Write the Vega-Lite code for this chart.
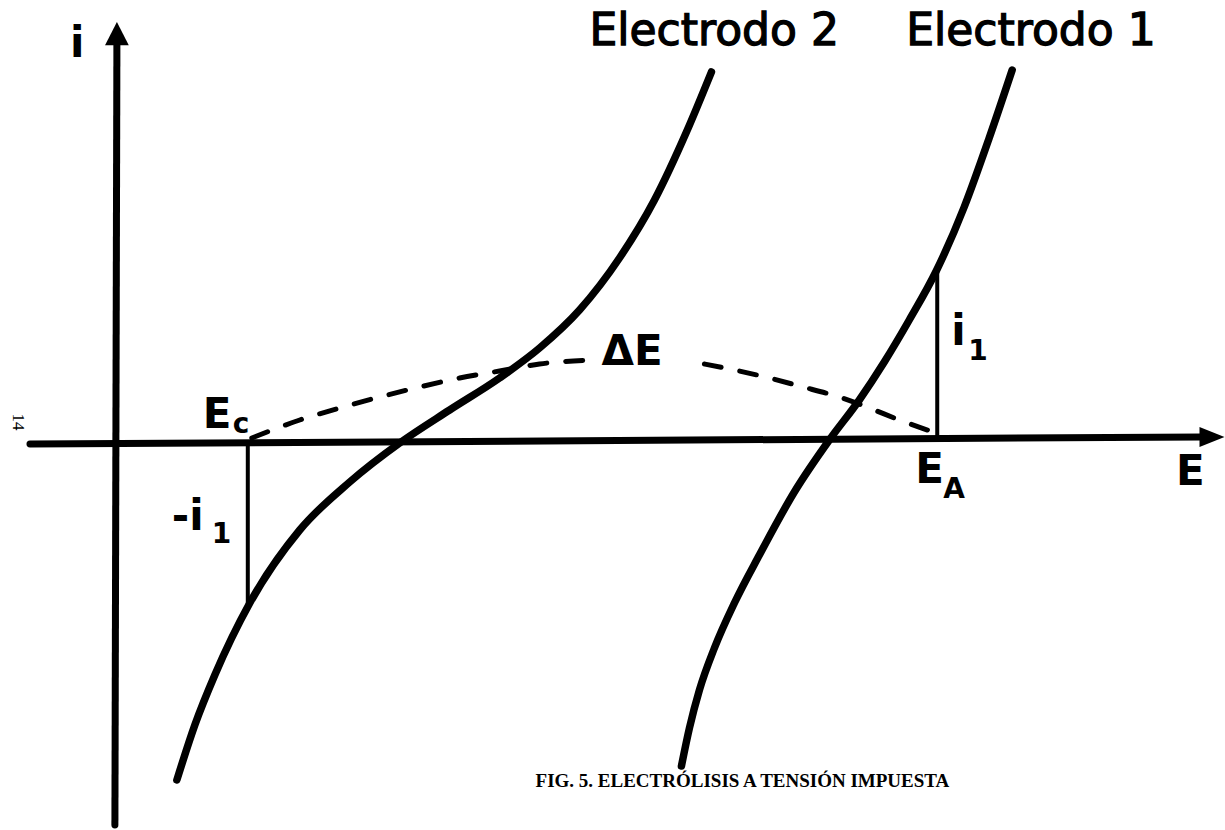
{
  "$schema": "https://vega.github.io/schema/vega-lite/v6.json",
  "width": 1225,
  "height": 830,
  "autosize": {"type": "fit", "contains": "padding"},
  "padding": 0,
  "background": "white",
  "config": {"view": {"stroke": null}},
  "datasets": {
    "axes": [
      {"E": -0.87, "i": -0.01, "E2": 10.86, "i2": 0.06},
      {"E": 0.0, "i": 3.99, "E2": -0.02, "i2": -3.82}
    ],
    "arrowUp": [{"E": 0.0, "i": 4.085}],
    "arrowRight": [{"E": 10.96, "i": 0.06}],
    "curves": [
      {"curve": "Electrodo 2", "E": 0.60, "i": -3.37},
      {"curve": "Electrodo 2", "E": 0.78, "i": -2.82},
      {"curve": "Electrodo 2", "E": 0.98, "i": -2.32},
      {"curve": "Electrodo 2", "E": 1.33, "i": -1.60},
      {"curve": "Electrodo 2", "E": 1.83, "i": -0.87},
      {"curve": "Electrodo 2", "E": 2.33, "i": -0.39},
      {"curve": "Electrodo 2", "E": 2.83, "i": 0.00},
      {"curve": "Electrodo 2", "E": 3.33, "i": 0.33},
      {"curve": "Electrodo 2", "E": 3.83, "i": 0.65},
      {"curve": "Electrodo 2", "E": 4.23, "i": 0.95},
      {"curve": "Electrodo 2", "E": 4.63, "i": 1.33},
      {"curve": "Electrodo 2", "E": 5.03, "i": 1.85},
      {"curve": "Electrodo 2", "E": 5.38, "i": 2.43},
      {"curve": "Electrodo 2", "E": 5.70, "i": 3.11},
      {"curve": "Electrodo 2", "E": 5.95, "i": 3.71},
      {"curve": "Electrodo 1", "E": 5.65, "i": -3.23},
      {"curve": "Electrodo 1", "E": 5.73, "i": -2.85},
      {"curve": "Electrodo 1", "E": 5.83, "i": -2.47},
      {"curve": "Electrodo 1", "E": 5.98, "i": -2.05},
      {"curve": "Electrodo 1", "E": 6.18, "i": -1.60},
      {"curve": "Electrodo 1", "E": 6.43, "i": -1.12},
      {"curve": "Electrodo 1", "E": 6.78, "i": -0.49},
      {"curve": "Electrodo 1", "E": 7.13, "i": 0.03},
      {"curve": "Electrodo 1", "E": 7.43, "i": 0.43},
      {"curve": "Electrodo 1", "E": 7.68, "i": 0.81},
      {"curve": "Electrodo 1", "E": 7.93, "i": 1.23},
      {"curve": "Electrodo 1", "E": 8.20, "i": 1.72},
      {"curve": "Electrodo 1", "E": 8.48, "i": 2.36},
      {"curve": "Electrodo 1", "E": 8.73, "i": 3.05},
      {"curve": "Electrodo 1", "E": 8.96, "i": 3.73}
    ],
    "drops": [
      {"E": 1.31, "i": -0.01, "E2": 1.31, "i2": -1.64},
      {"E": 8.21, "i": 0.06, "E2": 8.21, "i2": 1.72}
    ],
    "deltaE": [
      {"part": "left", "E": 1.35, "i": 0.05},
      {"part": "left", "E": 1.83, "i": 0.23},
      {"part": "left", "E": 2.23, "i": 0.35},
      {"part": "left", "E": 2.63, "i": 0.46},
      {"part": "left", "E": 3.03, "i": 0.56},
      {"part": "left", "E": 3.43, "i": 0.65},
      {"part": "left", "E": 3.83, "i": 0.72},
      {"part": "left", "E": 4.23, "i": 0.79},
      {"part": "left", "E": 4.75, "i": 0.83},
      {"part": "right", "E": 5.88, "i": 0.79},
      {"part": "right", "E": 6.23, "i": 0.72},
      {"part": "right", "E": 6.53, "i": 0.65},
      {"part": "right", "E": 6.83, "i": 0.57},
      {"part": "right", "E": 7.26, "i": 0.45},
      {"part": "right", "E": 7.53, "i": 0.35},
      {"part": "right", "E": 7.83, "i": 0.23},
      {"part": "right", "E": 8.20, "i": 0.10}
    ],
    "headings": [
      {"label": "Electrodo 2", "E": 4.73, "i": 3.98},
      {"label": "Electrodo 1", "E": 7.90, "i": 3.98}
    ],
    "symbols": [
      {"label": "i", "E": -0.47, "i": 3.86},
      {"label": "E", "E": 0.86, "i": 0.15},
      {"label": "-i", "E": 0.55, "i": -0.87},
      {"label": "ΔE", "E": 4.85, "i": 0.78},
      {"label": "i", "E": 8.35, "i": 0.98},
      {"label": "E", "E": 7.99, "i": -0.40},
      {"label": "E", "E": 10.60, "i": -0.42}
    ],
    "subscripts": [
      {"label": "c", "E": 1.16, "i": 0.10},
      {"label": "1", "E": 0.95, "i": -1.00},
      {"label": "1", "E": 8.52, "i": 0.83},
      {"label": "A", "E": 8.27, "i": -0.55}
    ],
    "page": [{"label": "14", "E": -0.99, "i": 0.21}],
    "caption": [{"label": "FIG. 5. ELECTRÓLISIS A TENSIÓN IMPUESTA", "E": 4.19, "i": -3.44}]
  },
  "encoding": {
    "x": {"field": "E", "type": "quantitative", "scale": {"domain": [-1.17, 11.08], "nice": false, "zero": false}, "axis": null},
    "y": {"field": "i", "type": "quantitative", "scale": {"domain": [-3.87, 4.43], "nice": false, "zero": false}, "axis": null}
  },
  "layer": [
    {
      "data": {"name": "axes"},
      "mark": {"type": "rule", "color": "black", "strokeWidth": 7, "strokeCap": "round"},
      "encoding": {"x2": {"field": "E2"}, "y2": {"field": "i2"}}
    },
    {
      "data": {"name": "arrowUp"},
      "mark": {"type": "point", "shape": "M0,-1L-0.95,0.85L0.95,0.85Z", "size": 625, "filled": true, "color": "black", "opacity": 1}
    },
    {
      "data": {"name": "arrowRight"},
      "mark": {"type": "point", "shape": "M1,0L-1,-0.8L-1,0.8Z", "size": 625, "filled": true, "color": "black", "opacity": 1}
    },
    {
      "data": {"name": "drops"},
      "mark": {"type": "rule", "color": "black", "strokeWidth": 4},
      "encoding": {"x2": {"field": "E2"}, "y2": {"field": "i2"}}
    },
    {
      "data": {"name": "deltaE"},
      "mark": {"type": "line", "color": "black", "strokeWidth": 5, "strokeDash": [17, 19], "strokeCap": "round", "interpolate": "monotone"},
      "encoding": {"detail": {"field": "part"}}
    },
    {
      "data": {"name": "curves"},
      "mark": {"type": "line", "color": "black", "strokeWidth": 7.5, "strokeCap": "round", "interpolate": "monotone"},
      "encoding": {"detail": {"field": "curve"}}
    },
    {
      "data": {"name": "headings"},
      "mark": {"type": "text", "align": "left", "baseline": "alphabetic", "font": "DejaVu Sans", "fontSize": 44, "fontWeight": "normal", "stroke": "black", "strokeWidth": 1.3, "color": "black"},
      "encoding": {"text": {"field": "label"}}
    },
    {
      "data": {"name": "symbols"},
      "mark": {"type": "text", "align": "left", "baseline": "alphabetic", "font": "DejaVu Sans", "fontSize": 42, "fontWeight": "bold", "color": "black"},
      "encoding": {"text": {"field": "label"}}
    },
    {
      "data": {"name": "subscripts"},
      "mark": {"type": "text", "align": "left", "baseline": "alphabetic", "font": "DejaVu Sans", "fontSize": 28, "fontWeight": "bold", "color": "black"},
      "encoding": {"text": {"field": "label"}}
    },
    {
      "data": {"name": "page"},
      "mark": {"type": "text", "align": "center", "baseline": "middle", "angle": 90, "font": "Liberation Serif", "fontSize": 17, "color": "black"},
      "encoding": {"text": {"field": "label"}}
    },
    {
      "data": {"name": "caption"},
      "mark": {"type": "text", "align": "left", "baseline": "alphabetic", "font": "Liberation Serif", "fontSize": 19, "fontWeight": "bold", "color": "black"},
      "encoding": {"text": {"field": "label"}}
    }
  ]
}
